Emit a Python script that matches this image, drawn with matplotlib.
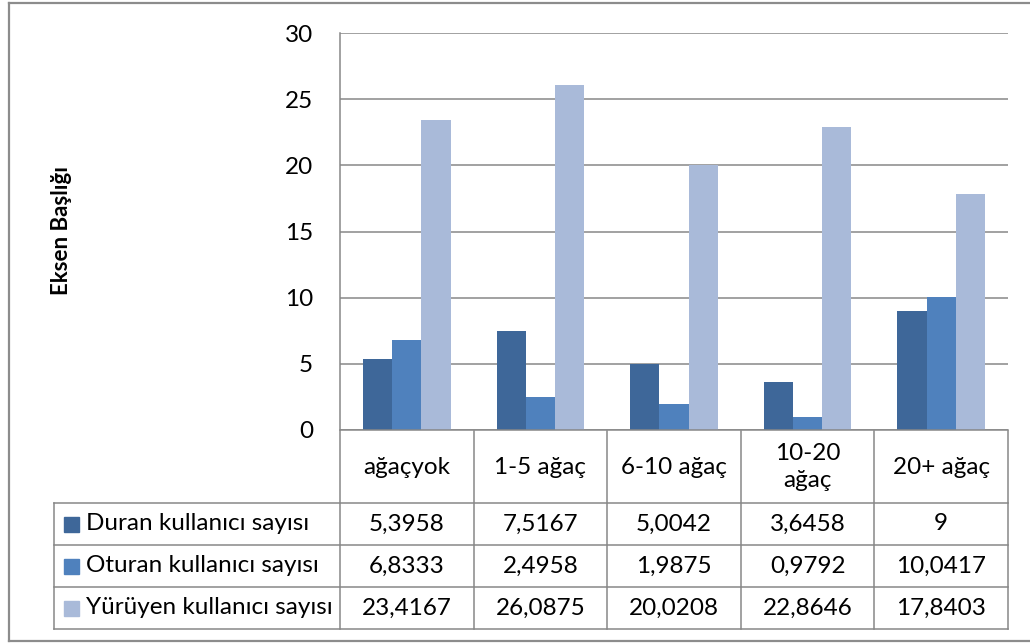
import matplotlib
matplotlib.use("Agg")
import matplotlib.pyplot as plt
from matplotlib.lines import Line2D
from matplotlib.patches import Rectangle
from matplotlib import transforms

plt.rcParams['font.family'] = ['Lato', 'DejaVu Sans']

categories = ["ağaçyok", "1-5 ağaç", "6-10 ağaç", "10-20\nağaç", "20+ ağaç"]
series_names = ["Duran kullanıcı sayısı", "Oturan kullanıcı sayısı", "Yürüyen kullanıcı sayısı"]
duran = [5.3958, 7.5167, 5.0042, 3.6458, 9]
oturan = [6.8333, 2.4958, 1.9875, 0.9792, 10.0417]
yuruyen = [23.4167, 26.0875, 20.0208, 22.8646, 17.8403]
colors = ["#3E6799", "#4F81BD", "#A9BAD9"]
y_ticks = [0, 5, 10, 15, 20, 25, 30]

W, H = 1030, 644
grid_c = "#878787"
fs = 17.5

def fx(x):
    return x / W

def fy(y):
    return 1 - y / H

fig = plt.figure(figsize=(W / 100, H / 100), dpi=100)
ax = fig.add_axes([fx(340), fy(430), fx(1008) - fx(340), fy(33) - fy(430)])

series = [duran, oturan, yuruyen]
bw = 0.219
xs = list(range(len(categories)))
for i, (vals, c) in enumerate(zip(series, colors)):
    ax.bar([x + (i - 1) * bw for x in xs], vals, width=bw, color=c, edgecolor="none", zorder=2)

ax.set_xlim(-0.5, len(categories) - 0.5)
ax.set_ylim(0, 30)
ax.set_yticks(y_ticks)
ax.set_yticklabels([str(t) for t in y_ticks], fontsize=fs)
ax.tick_params(axis="y", length=0, pad=19.5)
ax.set_xticks([])
ax.grid(axis="y", color=grid_c, lw=1.1, zorder=1)
for s in ["top", "right"]:
    ax.spines[s].set_visible(False)
for s in ["left", "bottom"]:
    ax.spines[s].set_color(grid_c)
    ax.spines[s].set_linewidth(1.1)

fig.text(fx(61), fy(230), "Eksen Başlığı", rotation=90, fontsize=16, fontweight="bold",
         ha="center", va="center")

# data table under the plot
tr = transforms.blended_transform_factory(ax.transData, fig.transFigure)
row_y = [431, 503, 545, 587, 629]
x0 = -0.5
for xb in [x0 + k for k in range(len(categories) + 1)]:
    fig.add_artist(Line2D([xb, xb], [fy(431), fy(629)], transform=tr, color=grid_c, lw=1.1))
for yb in row_y[1:]:
    fig.add_artist(Line2D([fx(54), fx(1008)], [fy(yb), fy(yb)], transform=fig.transFigure,
                          color=grid_c, lw=1.1))
fig.add_artist(Line2D([fx(54), fx(54)], [fy(503), fy(629)], transform=fig.transFigure,
                      color=grid_c, lw=1.1))

for x, cat in zip(xs, categories):
    fig.text(x, fy((row_y[0] + row_y[1]) / 2), cat, transform=tr, fontsize=fs,
             ha="center", va="center", linespacing=1.35)

for r, (name, vals, c) in enumerate(zip(series_names, series, colors)):
    yc = (row_y[r + 1] + row_y[r + 2]) / 2
    fig.add_artist(Rectangle((fx(64), fy(yc + 7.5)), fx(15), fy(0) - fy(15),
                             transform=fig.transFigure, color=c))
    fig.text(fx(86), fy(yc), name, fontsize=fs, ha="left", va="center")
    for x, v in zip(xs, vals):
        fig.text(x, fy(yc), str(v).replace(".", ","), transform=tr, fontsize=fs,
                 ha="center", va="center")

# chart frame
frame_c = "#8C8C8C"
fig.add_artist(Line2D([fx(9), fx(9)], [fy(3), fy(641)], transform=fig.transFigure, color=frame_c, lw=1.6))
fig.add_artist(Line2D([fx(9), 1], [fy(3), fy(3)], transform=fig.transFigure, color=frame_c, lw=1.6))
fig.add_artist(Line2D([fx(9), 1], [fy(641), fy(641)], transform=fig.transFigure, color=frame_c, lw=1.6))

fig.savefig("out.png", dpi=100)
